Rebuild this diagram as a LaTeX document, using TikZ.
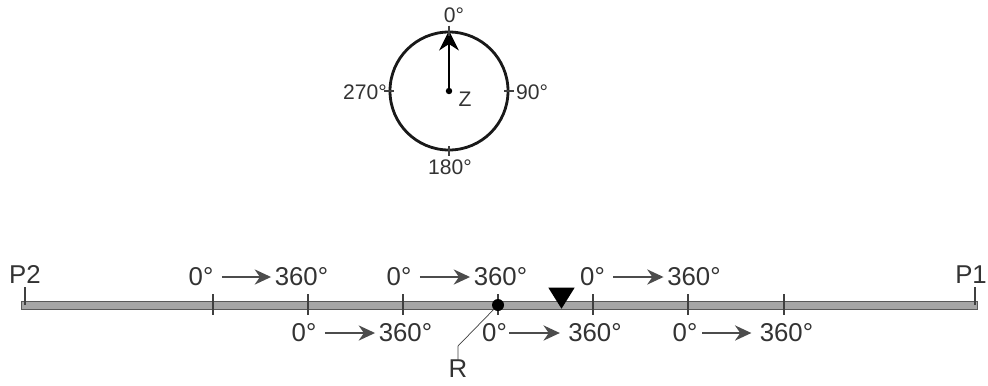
\documentclass[tikz,border=0pt]{standalone}
\usepackage{fontspec}
\setmainfont{Liberation Sans}
\usetikzlibrary{arrows.meta, positioning, shapes.geometric, calc}
\definecolor{inkgrey}{HTML}{333333}
\definecolor{barfill}{HTML}{A6A6A6}
\tikzset{
    >=Latex,
    dial_circle/.style={
        circle,
        draw=black!90,
        line width=2.4pt,
        minimum size=3.54cm,
        inner sep=0pt
    },
    deg_label/.style={
        text=inkgrey,
        font=\fontsize{22}{24}\selectfont,
        inner sep=0pt
    },
    dial_label/.style={
        text=inkgrey,
        font=\fontsize{18}{20}\selectfont,
        inner sep=0pt
    },
    range_arrow/.style={
        -{Stealth[length=14pt,width=13pt]},
        line width=1.4pt,
        draw=black!70,
        shorten >=3pt,
        shorten <=7pt
    },
    scale_tick/.style={
        line width=1.1pt,
        draw=black!75
    },
    leader_line/.style={
        line width=0.6pt,
        draw=black!75
    }
}
\newcommand{\degrange}[5][]{
    \node[deg_label] (#2a) at (#3,#4) {0°};
    \node[deg_label, right=#5cm of #2a] (#2b) {360°};
    \draw[range_arrow, #1] (#2a) -- (#2b);
}

\begin{document}
\begin{tikzpicture}[x=0.03cm, y=-0.03cm]
\useasboundingbox (0,0) rectangle (988,385);

% dial
\node[dial_circle] (Dial) at (449,91) {};
\node[circle, fill=black, inner sep=0pt, minimum size=5.5pt] (Centre) at (449,91) {};
\draw[-{Stealth[length=17pt,width=17pt]}, line width=1.3pt] (Centre) -- (Dial.north);
\foreach \anc/\dx/\dy in {north/0/1, south/0/1, east/1/0, west/1/0} {
    \draw[scale_tick] ($(Dial.\anc)+(-5*\dx,-5*\dy)$) -- ($(Dial.\anc)+(5*\dx,5*\dy)$);
}
\node[dial_label] (Lab0) at (454,15) {0°};
\node[dial_label] (Lab90) at (532,92) {90°};
\node[dial_label] (Lab180) at (450,167) {180°};
\node[dial_label] (Lab270) at (365,92) {270°};
\node[dial_label] (LabZ) at (465,99) {Z};

% scale bar
\node[rectangle, draw=black!65, fill=barfill, line width=0.6pt, inner sep=0pt,
      minimum width=28.68cm, minimum height=0.24cm] (Bar) at (499,305) {};
\foreach \x in {213,308,403,498,593,688,784} {
    \draw[scale_tick] (\x,294) -- (\x,315);
}
\coordinate (P2foot) at (25,305);
\coordinate (P1foot) at (975,305);
\node[deg_label, above=0.63cm of P2foot] (P2) {P2};
\node[deg_label, above=0.63cm of P1foot, xshift=-0.12cm] (P1) {P1};
\draw[scale_tick] (P2foot) -- ++(0,-18);
\draw[scale_tick] (P1foot) -- ++(0,-18);

% ranges above the bar
\degrange{up1}{201}{277}{1.83}
\degrange{up2}{399}{277}{1.86}
\degrange{up3}{592.5}{277}{1.86}
% ranges below the bar
\degrange{lo1}{304}{333}{1.86}
\degrange[shorten <=2pt, shorten >=7pt]{lo2}{494.5}{333}{1.83}
\degrange[shorten <=4pt, shorten >=7pt]{lo3}{685}{333}{1.86}

% pointer and contact
\node[isosceles triangle, isosceles triangle apex angle=64, shape border rotate=-90,
      fill=black, inner sep=0pt, minimum height=0.63cm, minimum width=0.78cm] (Pointer) at (561.5,295) {};
\node[circle, fill=black, inner sep=0pt, minimum size=0.36cm] (Contact) at (498,305) {};
\node[deg_label] (R) at (458,369) {R};
\coordinate (Bend) at (458,346);
\draw[leader_line] (Contact) -- (Bend) -- (R);

\end{tikzpicture}
\end{document}
